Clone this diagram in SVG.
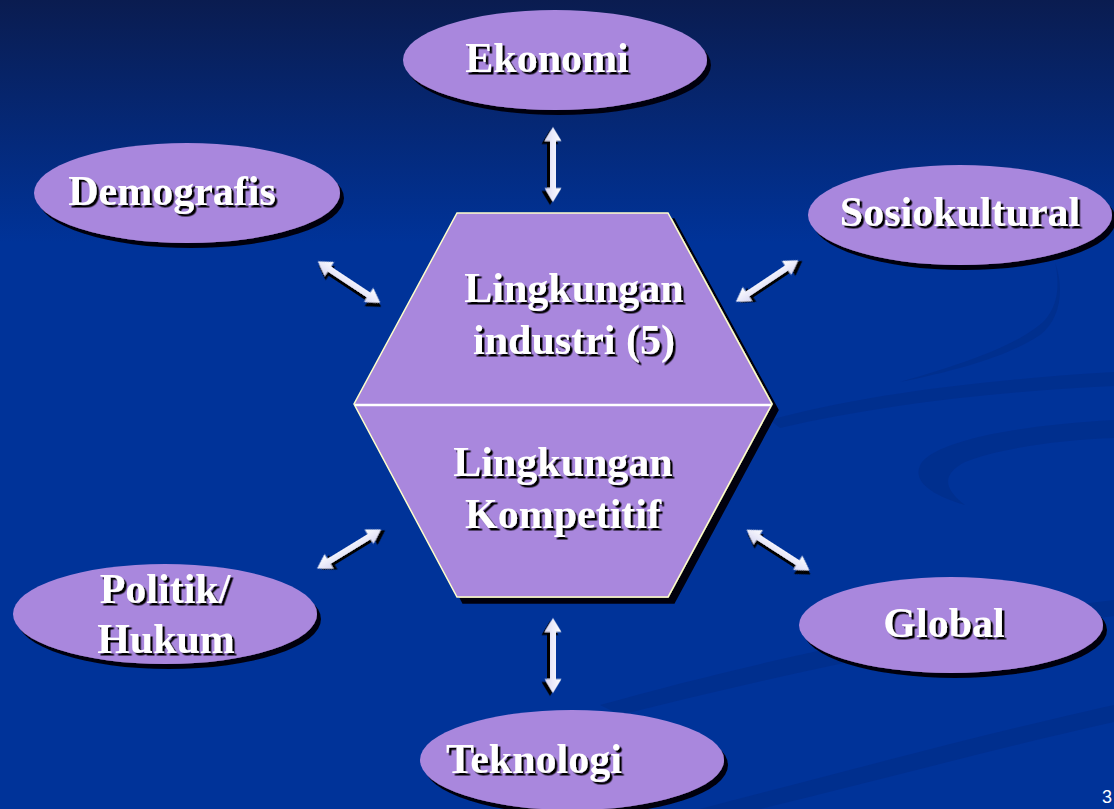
<svg xmlns="http://www.w3.org/2000/svg" width="1114" height="809" viewBox="0 0 1114 809">
  <defs>
    <linearGradient id="bg" x1="0" y1="0" x2="0" y2="1">
      <stop offset="0" stop-color="#0a1c50"/>
      <stop offset="0.3" stop-color="#003399"/>
      <stop offset="1" stop-color="#003399"/>
    </linearGradient>
    <linearGradient id="arrowFill" x1="0" y1="0" x2="0" y2="1">
      <stop offset="0" stop-color="#ffffff"/>
      <stop offset="1" stop-color="#d8d8f4"/>
    </linearGradient>
    <filter id="shapeShadow" x="-10%" y="-10%" width="125%" height="130%">
      <feDropShadow dx="4" dy="5" stdDeviation="0.6" flood-color="#000010" flood-opacity="1"/>
    </filter>
    <filter id="hexShadow" x="-10%" y="-10%" width="125%" height="125%">
      <feDropShadow dx="6" dy="6" stdDeviation="0.6" flood-color="#000010" flood-opacity="1"/>
    </filter>
    <filter id="textShadow" x="-10%" y="-20%" width="125%" height="150%">
      <feDropShadow dx="2.5" dy="2.5" stdDeviation="0.3" flood-color="#000000" flood-opacity="1"/>
    </filter>
    <filter id="arrowShadow" x="-30%" y="-30%" width="160%" height="160%">
      <feDropShadow dx="3" dy="3" stdDeviation="0.4" flood-color="#000000" flood-opacity="1"/>
    </filter>
    <polygon id="dblArrow" points="-37.5,0 -23.5,-8.5 -23.5,-3 23.5,-3 23.5,-8.5 37.5,0 23.5,8.5 23.5,3 -23.5,3 -23.5,8.5"/>
  </defs>
  <style>
    .oval { fill: #a987dd; filter: url(#shapeShadow); }
    .hex { fill: #a987dd; stroke: #ffffcc; stroke-width: 1.5; filter: url(#hexShadow); }
    .divider { stroke: #ffffff; stroke-width: 2.5; }
    .label { font-family: "Liberation Serif", "Times New Roman", serif; font-weight: bold; font-size: 42px; fill: #ffffff; filter: url(#textShadow); }
    .arrow { fill: url(#arrowFill); filter: url(#arrowShadow); }
    .swoosh { fill: #002b85; opacity: 0.55; }
    .pagenum { font-family: "Liberation Sans", Arial, sans-serif; font-size: 18px; fill: #ffffff; }
  </style>

  <!-- background -->
  <rect x="0" y="0" width="1114" height="809" fill="url(#bg)"/>
  <g id="background-swooshes">
    <path class="swoosh" d="M770,420 C860,395 980,380 1114,372 L1114,386 C990,392 880,405 780,428 Z"/>
    <path class="swoosh" d="M1114,420 C1020,425 940,440 922,462 C910,480 930,495 965,505 C945,490 940,475 965,462 C1000,448 1060,440 1114,438 Z"/>
    <path class="swoosh" d="M600,705 C760,660 950,620 1114,600 L1114,616 C960,635 780,675 620,715 Z"/>
    <path class="swoosh" d="M700,809 C850,770 1000,730 1114,705 L1114,722 C1010,745 880,780 760,809 Z"/>
    <path class="swoosh" d="M1055,262 C1065,290 1060,320 1040,335 C1010,355 960,370 900,382 C960,365 1020,345 1045,320 C1058,305 1060,285 1055,262 Z"/>
  </g>

  <!-- connectors -->
  <g id="connectors">
    <use href="#dblArrow" class="arrow" transform="translate(553,164.5) rotate(90)"/>
    <use href="#dblArrow" class="arrow" transform="translate(553,655.5) rotate(90)"/>
    <use href="#dblArrow" class="arrow" transform="translate(349,282) rotate(33.5)"/>
    <use href="#dblArrow" class="arrow" transform="translate(767,281) rotate(-33.7)"/>
    <use href="#dblArrow" class="arrow" transform="translate(349,549) rotate(-31.5)"/>
    <use href="#dblArrow" class="arrow" transform="translate(778,550) rotate(32.8)"/>
  </g>

  <!-- center hexagon -->
  <g id="node-center">
    <polygon class="hex" points="457,213 668,213 772,404 668,597 457,597 354,404"/>
    <line class="divider" x1="355" y1="405" x2="771" y2="405"/>
    <text class="label" x="574" y="302" text-anchor="middle">Lingkungan</text>
    <text class="label" x="574" y="354" text-anchor="middle">industri (5)</text>
    <text class="label" x="563" y="476" text-anchor="middle">Lingkungan</text>
    <text class="label" x="563" y="528" text-anchor="middle">Kompetitif</text>
  </g>

  <g id="node-ekonomi">
    <ellipse class="oval" cx="555" cy="60" rx="152" ry="50"/>
    <text class="label" x="547" y="72" text-anchor="middle">Ekonomi</text>
  </g>

  <g id="node-demografis">
    <ellipse class="oval" cx="187" cy="193" rx="153" ry="50"/>
    <text class="label" x="172" y="205" text-anchor="middle">Demografis</text>
  </g>

  <g id="node-sosiokultural">
    <ellipse class="oval" cx="960" cy="215" rx="152" ry="50"/>
    <text class="label" x="960" y="226" text-anchor="middle">Sosiokultural</text>
  </g>

  <g id="node-politik">
    <ellipse class="oval" cx="165" cy="614" rx="152" ry="50"/>
    <text class="label" x="165" y="603" text-anchor="middle">Politik/</text>
    <text class="label" x="166" y="653" text-anchor="middle">Hukum</text>
  </g>

  <g id="node-global">
    <ellipse class="oval" cx="951" cy="625" rx="152" ry="48"/>
    <text class="label" x="944" y="637" text-anchor="middle">Global</text>
  </g>

  <g id="node-teknologi">
    <ellipse class="oval" cx="572" cy="760" rx="152" ry="50"/>
    <text class="label" x="534" y="773" text-anchor="middle">Teknologi</text>
  </g>

  <text class="pagenum" x="1102" y="803">3</text>
</svg>
